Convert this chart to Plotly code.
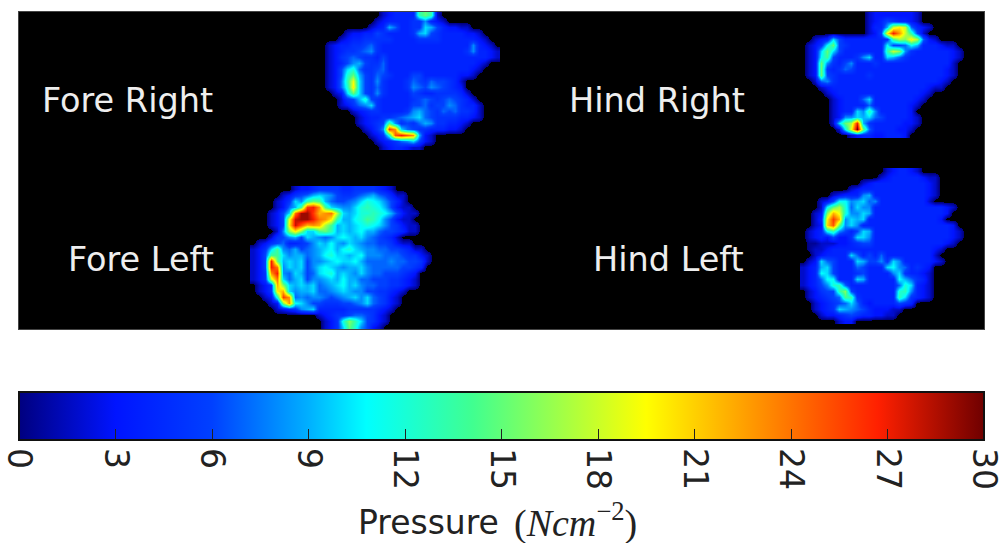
import plotly.graph_objects as go

# Pressure grids: one character per sensor cell, base-36, value in N/cm^2 (0 = no contact)
fore_right = [
"0000000000234444dfd20000000000",
"000000000234444558432000000000",
"00000000234974455a964332200000",
"00002334465444459a654444332000",
"000234455555444455554444443200",
"023445567544444444444444484320",
"023455678544444444444444584432",
"023567655464444444444444444432",
"02346896557444444444444444320",
"0236ac7556744444444444444320",
"0236cf965765444664444443320",
"0237dja6585444576576654200",
"0237cka6575444587687654300",
"0023afa6585444465445555420",
"0002569c6544444567656765420",
"00023578a54444466756687544200",
"000002345544445897657675542",
"0000002344556789a76555544320",
"00000023456e85657985544320",
"00000002358qna76554443320",
"00000000235cprpn9320",
"000000000234578a6320",
"00000000002344322",
]
hind_right = [
"00000000000233333332",
"00000000000234654432",
"000000000002449iki7432",
"00000000000236krnid620",
"00234a644444445ehgkh7320",
"0235bf65444444b667b9444322",
"023afa64444444dig85444444320",
"023be644458a44a97544444443200",
"023f8546844454444444444442",
"023f5457644444444444444432",
"023f6544444544444444444432",
"00278544444444444444444320",
"000234444444444444444322",
"0000234444444444444432",
"00000234447a444444432",
"00000234444744444432",
"000002344a8d8444443",
"000002388a9a76444432",
"000002afhr9544444332",
"0000002bjuf74444332",
"000000002344334443",
]
fore_left = [
"000000023345555445555432",
"00000235679a986556789764220",
"0000235a8dfe976678acba8642",
"00002379eqrnea988acdcb96322",
"000236aottqmnoha9accdcb96322",
"000236jsttronkd99bcedb86322",
"000236kspmnmhe9a9abcba865322",
"000028gkgaaefd9a9ab9976654220",
"000256896a9878aba9a876542",
"02356744568a9b98a9877665322",
"235ae8796789ab9bca98877665422",
"236eea899789bcaa9ab888777655320",
"236rf9a9a6889abaab9777787766520",
"236ro8a9a68aba9899a8777776654",
"235nr87a967abc9a98a877666543",
"235ioa79a6889a9b997766655432",
"0235mga9a9a789ab9a87766554320",
"0235kma899a7789a9886655432",
"0023cqn7878876789a8a76532",
"00023gnba8665556678a76532",
"0000234589a4444455555432",
"000000000002345567765320",
"000000000000235cgda6532",
"000000000000235afc8632",
]
hind_left = [
"00000000000000234432",
"00000000000002344444322",
"00000000002344444444432",
"00000000234444444444432",
"00000234448944444444432",
"000236bb89a78444444442",
"0002bfhc7a8844444444444432",
"0023gmjc88a94444444444443",
"0024kqm8a9a4444444444443",
"0023lpf8a84444444444444443",
"0234bd8646a9444444444444432",
"023436335aa8444444444444432",
"01122233456644444444444432",
"012234444444444444444432",
"00234444a74647444444442",
"023a76444a96685a84444432",
"2349a644476444ab874543",
"234ba64445644448a54432",
"2347bb444a944444b97542",
"23468cd7444444447ca432",
"023566dg64444444cd8432",
"0234567ed5444444da5432",
"00234567a7434444654",
"002345a9876433322",
"0002334565443322",
"000000233",
]
colorbar_ticks = [0, 3, 6, 9, 12, 15, 18, 21, 24, 27, 30]
paw_labels = ["Fore Right", "Hind Right", "Fore Left", "Hind Left"]

COLS = 30
CELL = 6
jet = [[0, "#00007f"], [0.1, "#0014ff"], [0.2, "#0040ff"], [0.3, "#00b0ff"], [0.36, "#00ffff"],
       [0.47, "#40ff90"], [0.65, "#ffff00"], [0.76, "#ff9800"], [0.89, "#ff2000"], [1, "#6f0000"]]
paw_scale = [[0, "#000000"], [0.02, "#000000"], [0.0201, "#00007f"]] + jet[1:]


def parse(rows):
    width = max(COLS, max(len(r) for r in rows))
    return [[int(c, 36) for c in r.ljust(width, "0")] for r in rows]


fig = go.Figure()
paws = [(fore_right, 320, 12), (hind_right, 800, 12), (fore_left, 250, 186), (hind_left, 800, 168)]
for rows, left, top in paws:
    fig.add_trace(go.Heatmap(z=parse(rows), x0=left + CELL / 2, dx=CELL, y0=top + CELL / 2, dy=CELL,
                             zmin=0, zmax=30, colorscale=paw_scale, zsmooth="best",
                             showscale=False, hoverinfo="skip"))

fig.add_trace(go.Scatter(
    x=[None], y=[None], mode="markers", showlegend=False,
    marker=dict(cmin=0, cmax=30, color=[0], colorscale=jet, showscale=True,
                colorbar=dict(orientation="h", lenmode="pixels", len=965, thicknessmode="pixels", thickness=48,
                              x=19 / 1001, xanchor="left", y=1 - 392 / 543, yanchor="top",
                              xpad=0, ypad=0, outlinecolor="#111111", outlinewidth=2,
                              tickmode="array", tickvals=colorbar_ticks, ticktext=[str(t) for t in colorbar_ticks],
                              ticks="inside", ticklen=12, tickwidth=1, tickcolor="#222222", tickangle=90,
                              ticklabeloverflow="allow",
                              tickfont=dict(family="DejaVu Sans", size=33, color="#222222")))))

label_spots = [(40, 101), (567, 101), (66, 260), (591, 260)]
annotations = [dict(x=x, y=y, xref="x", yref="y", text=t, showarrow=False, xanchor="left", yanchor="middle",
                    font=dict(family="DejaVu Sans", size=33.5, color="#eeeeee"))
               for t, (x, y) in zip(paw_labels, label_spots)]
annotations.append(dict(x=356 / 1001, y=21 / 543, xref="paper", yref="paper", text="Pressure", showarrow=False,
                        xanchor="left", yanchor="middle",
                        font=dict(family="DejaVu Sans", size=33, color="#222222")))
annotations.append(dict(x=512 / 1001, y=23 / 543, xref="paper", yref="paper",
                        text="(<i>Ncm</i><sup>−2</sup>)", showarrow=False, xanchor="left", yanchor="middle",
                        font=dict(family="Liberation Serif", size=38, color="#222222")))

fig.update_layout(
    width=1001, height=543, margin=dict(l=0, r=0, t=0, b=0),
    paper_bgcolor="#ffffff", plot_bgcolor="#000000", showlegend=False, annotations=annotations,
    xaxis=dict(domain=[19 / 1001, 984 / 1001], range=[19, 984], showgrid=False, zeroline=False,
               showticklabels=False, ticks="", showline=True, linecolor="#444444", mirror=True),
    yaxis=dict(domain=[1 - 329 / 543, 1 - 12 / 543], range=[329, 12], showgrid=False, zeroline=False,
               showticklabels=False, ticks="", showline=True, linecolor="#444444", mirror=True),
)
fig.write_html("out.html", config={"displayModeBar": False}, post_script="document.body.style.margin='0';")
